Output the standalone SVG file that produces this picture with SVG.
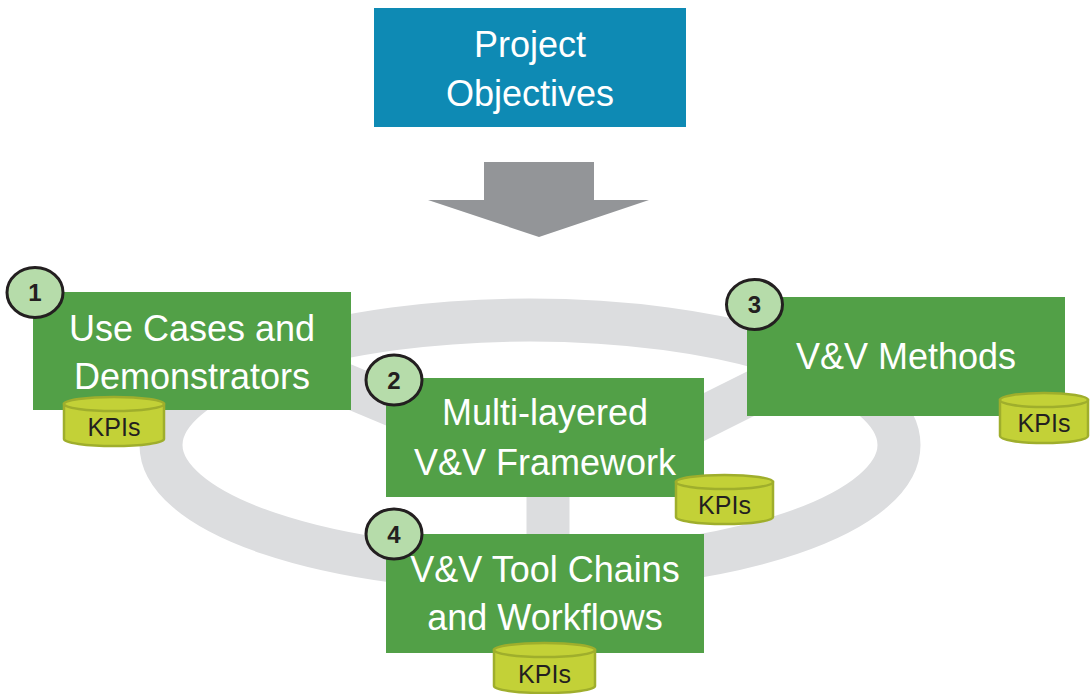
<svg xmlns="http://www.w3.org/2000/svg" width="1092" height="694" viewBox="0 0 1092 694">
<style>
.box{fill:#52a047}
.bt{font-family:"Liberation Sans",Arial,sans-serif;font-size:36px;fill:#ffffff;text-anchor:middle}
.ring{fill:none;stroke:#dcdddf;stroke-width:43}
.spoke{stroke:#dcdddf;stroke-width:43;stroke-linecap:butt}
.num{fill:#b6dcaa;stroke:#231f20;stroke-width:3}
.nt{font-family:"Liberation Sans",Arial,sans-serif;font-size:24px;font-weight:bold;fill:#231f20;text-anchor:middle}
.cyl{fill:#c3d137;stroke:#9fae2c;stroke-width:2.5}
.kt{font-family:"Liberation Sans",Arial,sans-serif;font-size:25px;fill:#231f20;text-anchor:middle}
</style>
<rect width="1092" height="694" fill="#ffffff"/>
<g id="connectors">
<ellipse class="ring" cx="530" cy="445" rx="369" ry="125"/>
<line class="spoke" x1="500" y1="450" x2="290" y2="362"/>
<line class="spoke" x1="610" y1="464" x2="800" y2="369"/>
<line class="spoke" x1="548" y1="480" x2="548" y2="560"/>
<polygon id="arrow" points="484,162 594,162 594,200 649,200 539,237 428,200 484,200" fill="#939598"/>
</g>
<g id="objectives">
<rect x="374" y="8" width="312" height="119" fill="#0e8ab4"/>
<text class="bt" x="530" y="57">Project</text>
<text class="bt" x="530" y="106">Objectives</text>
</g>
<g id="node1">
<rect class="box" x="33" y="292" width="318" height="118"/>
<text class="bt" x="192" y="341">Use Cases and</text>
<text class="bt" x="192" y="389">Demonstrators</text>
<ellipse class="num" cx="35" cy="292.5" rx="28" ry="25"/>
<text class="nt" x="35" y="301">1</text>
<path class="cyl" d="M64,404 V439 A50,7 0 0 0 164,439 V404 Z"/>
<ellipse class="cyl" cx="114" cy="404" rx="50" ry="7"/>
<text class="kt" x="114" y="436">KPIs</text>
</g>
<g id="node2">
<rect class="box" x="386" y="378" width="318" height="119"/>
<text class="bt" x="545" y="425">Multi-layered</text>
<text class="bt" x="545" y="475">V&amp;V Framework</text>
<ellipse class="num" cx="394" cy="380" rx="28" ry="25"/>
<text class="nt" x="394" y="388.5">2</text>
<path class="cyl" d="M676,482 V517 A48.5,7 0 0 0 773,517 V482 Z"/>
<ellipse class="cyl" cx="724.5" cy="482" rx="48.5" ry="7"/>
<text class="kt" x="724.5" y="514">KPIs</text>
</g>
<g id="node3">
<rect class="box" x="747" y="297" width="318" height="119"/>
<text class="bt" x="906" y="369">V&amp;V Methods</text>
<ellipse class="num" cx="754.5" cy="304.5" rx="28" ry="25"/>
<text class="nt" x="754.5" y="313">3</text>
<path class="cyl" d="M1000,400 V436 A44,7 0 0 0 1088,436 V400 Z"/>
<ellipse class="cyl" cx="1044" cy="400" rx="44" ry="7"/>
<text class="kt" x="1044" y="432">KPIs</text>
</g>
<g id="node4">
<rect class="box" x="386" y="534" width="318" height="119"/>
<text class="bt" x="545" y="582">V&amp;V Tool Chains</text>
<text class="bt" x="545" y="630">and Workflows</text>
<ellipse class="num" cx="394" cy="534" rx="28" ry="25"/>
<text class="nt" x="394" y="542.5">4</text>
<path class="cyl" d="M494,650 V686 A50.5,7 0 0 0 595,686 V650 Z"/>
<ellipse class="cyl" cx="544.5" cy="650" rx="50.5" ry="7"/>
<text class="kt" x="544.5" y="683">KPIs</text>
</g>
</svg>
